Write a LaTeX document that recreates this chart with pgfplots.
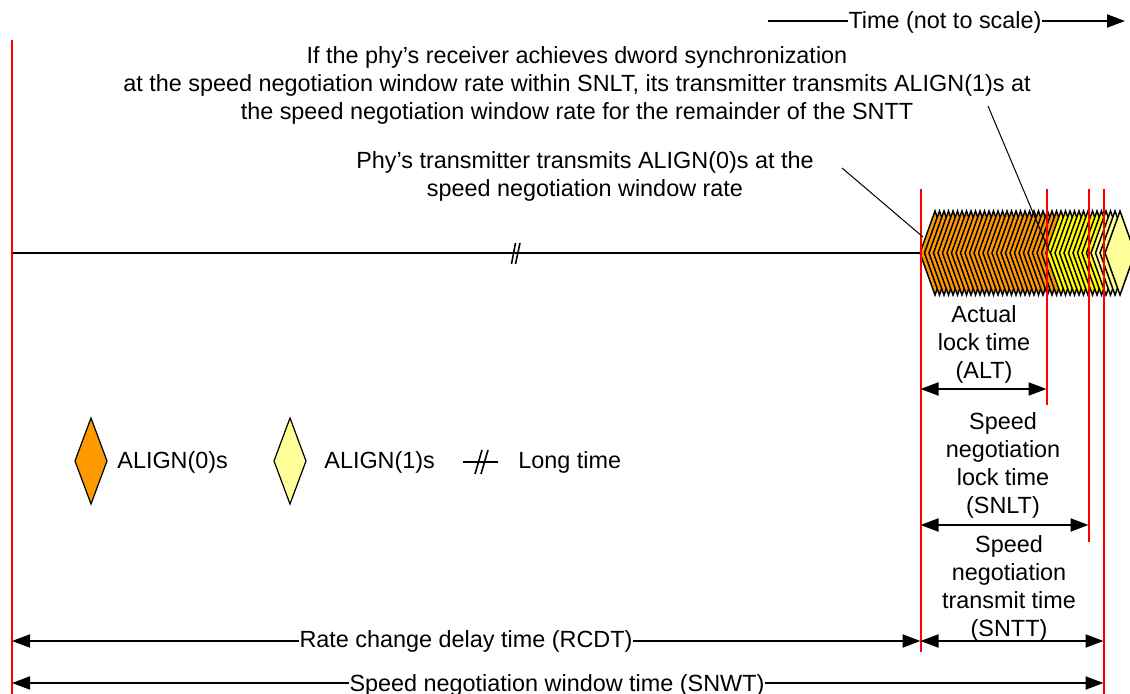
\documentclass[border=0pt]{standalone}
\usepackage{pgfplots}
\pgfplotsset{compat=1.18}
\usetikzlibrary{arrows.meta}
\usepackage{fontspec}
\setmainfont{Liberation Sans}
\definecolor{aorange}{RGB}{255,153,0}
\definecolor{ayellow}{RGB}{255,255,0}
\definecolor{alight}{RGB}{255,255,153}
\definecolor{ared}{RGB}{255,0,0}
\newcommand{\dia}[4]{\addplot[fill=#1,draw=black,line width=0.75pt] coordinates {(#2,253) (#3,211) (#4,253) (#3,295)} -- cycle;}
\begin{document}
\begin{tikzpicture}[
 txt/.style={anchor=base,inner sep=0pt,font=\fontsize{11.7}{14}\selectfont},
 arr/.style={line width=1pt,{Triangle[length=9pt,width=6.5pt]}-{Triangle[length=9pt,width=6.5pt]}},
 rarr/.style={line width=1pt,-{Triangle[length=9pt,width=6.5pt]}},
 redl/.style={ared,line width=1pt},
]
\begin{axis}[scale only axis,width=565pt,height=347pt,xmin=0,xmax=1130,ymin=0,ymax=694,
  y dir=reverse,hide axis,clip=false]
% main timeline
\addplot[black,line width=1pt] coordinates {(12,253) (921,253)};
\addplot[black,line width=0.8pt] coordinates {(511.5,264) (515.5,243)};
\addplot[black,line width=0.8pt] coordinates {(515.5,264) (520,243)};
% ALIGN(0)s
\dia{aorange}{920}{935}{950}
\dia{aorange}{924.5}{939.5}{954.5}
\dia{aorange}{929}{944}{959}
\dia{aorange}{933.5}{948.5}{963.5}
\dia{aorange}{938}{953}{968}
\dia{aorange}{942.5}{957.5}{972.5}
\dia{aorange}{947}{962}{977}
\dia{aorange}{951.5}{966.5}{981.5}
\dia{aorange}{956}{971}{986}
\dia{aorange}{960.5}{975.5}{990.5}
\dia{aorange}{965}{980}{995}
\dia{aorange}{969.5}{984.5}{999.5}
\dia{aorange}{974}{989}{1004}
\dia{aorange}{978.5}{993.5}{1008.5}
\dia{aorange}{983}{998}{1013}
\dia{aorange}{987.5}{1002.5}{1017.5}
\dia{aorange}{992}{1007}{1022}
\dia{aorange}{996.5}{1011.5}{1026.5}
\dia{aorange}{1001}{1016}{1031}
\dia{aorange}{1005.5}{1020.5}{1035.5}
\dia{aorange}{1010}{1025}{1040}
\dia{aorange}{1014.5}{1029.5}{1044.5}
\dia{aorange}{1019}{1034}{1049}
\dia{aorange}{1023.5}{1038.5}{1053.5}
\dia{aorange}{1028}{1043}{1058}
\dia{aorange}{1032.5}{1047.5}{1062.5}
\dia{aorange}{1037}{1052}{1067}
\dia{aorange}{1041.5}{1056.5}{1071.5}
% ALIGN(1)s during lock
\dia{ayellow}{1046}{1061}{1076}
\dia{ayellow}{1050.5}{1065.5}{1080.5}
\dia{ayellow}{1055}{1070}{1085}
\dia{ayellow}{1059.5}{1074.5}{1089.5}
\dia{ayellow}{1064}{1079}{1094}
\dia{ayellow}{1068.5}{1083.5}{1098.5}
\dia{ayellow}{1073}{1088}{1103}
\dia{ayellow}{1077.5}{1092.5}{1107.5}
\dia{ayellow}{1082}{1097}{1112}
\dia{ayellow}{1086.5}{1101.5}{1116.5}
\dia{alight}{1091}{1106}{1121}
\dia{alight}{1095.5}{1110.5}{1125.5}
\dia{alight}{1100}{1115}{1130}
\dia{alight}{1105}{1120}{1135}
% red markers
\addplot[redl] coordinates {(12,40) (12,694)};
\addplot[redl] coordinates {(920.5,189) (920.5,652)};
\addplot[redl] coordinates {(1046.5,189) (1046.5,405)};
\addplot[redl] coordinates {(1088.5,189) (1088.5,542)};
\addplot[redl] coordinates {(1103.5,189) (1103.5,694)};
% leader lines
\addplot[black,line width=0.5pt] coordinates {(842,168) (923,237)};
\addplot[black,line width=0.5pt] coordinates {(988,106) (1050,253)};
% measurement arrows
\addplot[arr] coordinates {(920.5,389) (1046.5,389)};
\addplot[arr] coordinates {(920.5,525) (1088.5,525)};
\addplot[arr] coordinates {(920.5,641) (1103.5,641)};
\addplot[arr] coordinates {(12,641) (920.5,641)};
\addplot[arr] coordinates {(12,683) (1103.5,683)};
\addplot[rarr] coordinates {(768,21) (1125,21)};
% legend
\addplot[fill=aorange,draw=black,line width=0.6pt] coordinates {(75,461) (91,418) (107,461) (91,504)} -- cycle;
\addplot[fill=alight,draw=black,line width=0.6pt] coordinates {(274,461) (290,418) (306,461) (290,504)} -- cycle;
\addplot[black,line width=0.8pt] coordinates {(463,462) (498,462)};
\addplot[black,line width=0.8pt] coordinates {(475,474) (482,450)};
\addplot[black,line width=0.8pt] coordinates {(481,474) (488,450)};
% texts
\node[txt] at (axis cs:577,64) {If the phy’s receiver achieves dword synchronization};
\node[txt] at (axis cs:577,92) {at the speed negotiation window rate within SNLT, its transmitter transmits ALIGN(1)s at};
\node[txt] at (axis cs:577,120) {the speed negotiation window rate for the remainder of the SNTT};
\node[txt] at (axis cs:585,169) {Phy’s transmitter transmits ALIGN(0)s at the};
\node[txt] at (axis cs:585,197) {speed negotiation window rate};
\node[txt] at (axis cs:984,323) {Actual};
\node[txt] at (axis cs:984,351) {lock time};
\node[txt] at (axis cs:984,379) {(ALT)};
\node[txt] at (axis cs:1003,430) {Speed};
\node[txt] at (axis cs:1003,458) {negotiation};
\node[txt] at (axis cs:1003,486) {lock time};
\node[txt] at (axis cs:1003,514) {(SNLT)};
\node[txt] at (axis cs:1009,553) {Speed};
\node[txt] at (axis cs:1009,581) {negotiation};
\node[txt] at (axis cs:1009,609) {transmit time};
\node[txt] at (axis cs:1009,637) {(SNTT)};
\node[txt,fill=white,inner xsep=0.5pt] at (axis cs:466,648) {Rate change delay time (RCDT)};
\node[txt,fill=white,inner xsep=0.5pt] at (axis cs:557,691) {Speed negotiation window time (SNWT)};
\node[txt,fill=white,inner xsep=0.5pt] at (axis cs:945,29) {Time (not to scale)};
\node[txt,anchor=base west] at (axis cs:117,469) {ALIGN(0)s};
\node[txt,anchor=base west] at (axis cs:324,469) {ALIGN(1)s};
\node[txt,anchor=base west] at (axis cs:518,469) {Long time};
\end{axis}
\pgfresetboundingbox
\path[use as bounding box] (0,0) rectangle (565pt,347pt);
\end{tikzpicture}
\end{document}
